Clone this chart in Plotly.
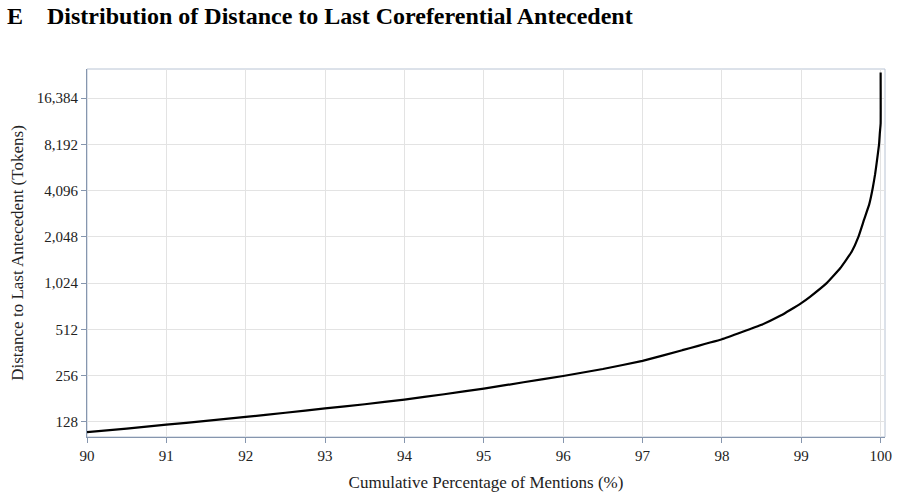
import plotly.graph_objects as go

# Data
cum_pct = [90.0, 90.5, 91.0, 91.5, 92.0, 92.5, 93.0, 93.5, 94.0, 94.5, 95.0, 95.5,
           96.0, 96.5, 97.0, 97.5, 98.0, 98.5, 98.74, 98.86, 99.0, 99.11, 99.32,
           99.49, 99.635, 99.72, 99.79, 99.856, 99.90, 99.93, 99.95, 99.98, 99.99,
           100.0, 100.0]
distance = [110, 116, 123, 130, 138, 147, 157, 167, 179, 194, 211, 232,
            255, 283, 320, 375, 442, 549, 630, 685, 760, 835, 1024,
            1280, 1640, 2048, 2640, 3330, 4240, 5220, 6200, 8192, 9700,
            11200, 24000]

tick_vals = [128, 256, 512, 1024, 2048, 4096, 8192, 16384]
tick_text = ["128", "256", "512", "1,024", "2,048", "4,096", "8,192", "16,384"]
x_ticks = [90, 91, 92, 93, 94, 95, 96, 97, 98, 99, 100]

FONT = "Liberation Serif, Times New Roman, serif"
AXIS_COL = "#8696ae"
FRAME_COL = "#b9c4d4"
GRID_COL = "#e3e3e3"
TXT = "#222222"

fig = go.Figure()
fig.add_trace(go.Scatter(
    x=cum_pct, y=distance, mode="lines",
    line=dict(color="#000000", width=2.2, shape="spline", smoothing=0.3),
    hoverinfo="skip", showlegend=False,
))

fig.update_layout(
    width=898, height=496,
    margin=dict(l=87, r=13, t=69, b=59),
    paper_bgcolor="white", plot_bgcolor="white",
    font=dict(family=FONT, color=TXT, size=15),
    title=dict(
        text="<b>E\u2003Distribution of Distance to Last Coreferential Antecedent</b>",
        x=7 / 898, xanchor="left", xref="container",
        y=1 - 16 / 496, yanchor="middle", yref="container",
        font=dict(family=FONT, size=24, color="#000000"),
    ),
    xaxis=dict(
        range=[90, 100.055], tickvals=x_ticks, automargin=False,
        showgrid=True, gridcolor=GRID_COL, gridwidth=1,
        zeroline=False,
        showline=True, linecolor=AXIS_COL, linewidth=1.2,
        ticks="outside", ticklen=5, tickcolor=AXIS_COL,
        tickfont=dict(family=FONT, size=15, color=TXT),
        title=dict(text="Cumulative Percentage of Mentions (%)",
                   font=dict(family=FONT, size=17, color=TXT), standoff=13),
    ),
    yaxis=dict(
        type="log", range=[2.0095, 4.4034], automargin=False,
        tickvals=tick_vals, ticktext=tick_text,
        showgrid=True, gridcolor=GRID_COL, gridwidth=1,
        zeroline=False,
        showline=True, linecolor=AXIS_COL, linewidth=1.2,
        ticks="outside", ticklen=5, tickcolor=AXIS_COL,
        tickfont=dict(family=FONT, size=15, color=TXT),
        title=dict(text="Distance to Last Antecedent (Tokens)",
                   font=dict(family=FONT, size=17, color=TXT), standoff=8),
    ),
    shapes=[dict(type="rect", xref="paper", yref="paper", x0=0, x1=1, y0=0, y1=1,
                 line=dict(color=FRAME_COL, width=1), layer="below")],
)

fig.write_html("out.html")
